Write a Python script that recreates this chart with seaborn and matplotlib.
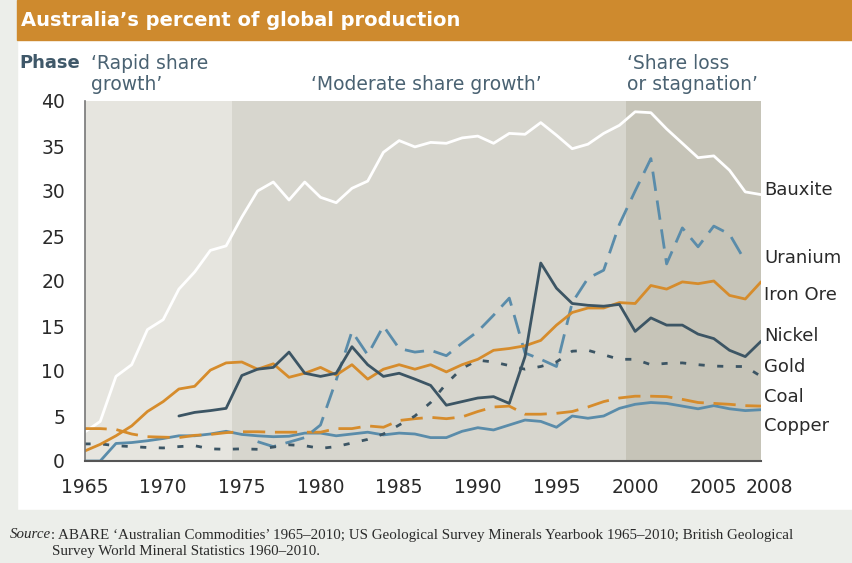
import matplotlib
matplotlib.use('Agg')
import matplotlib.pyplot as plt
import matplotlib.transforms as mtransforms
from matplotlib.patches import Rectangle
import seaborn as sns

# data (percent of global production)
years = list(range(1965, 2009))
bauxite = [3.2, 4.4, 9.4, 10.7, 14.6, 15.7, 19.1, 21.0, 23.4, 23.9,
           27.1, 30.0, 31.0, 29.0, 31.0, 29.3, 28.7, 30.3, 31.1, 34.3,
           35.6, 34.9, 35.4, 35.3, 35.9, 36.1, 35.3, 36.4, 36.3, 37.6,
           36.2, 34.7, 35.2, 36.4, 37.3, 38.8, 38.7, 36.9, 35.3, 33.7,
           33.9, 32.3, 29.9, 29.6]
iron_ore = [1.1, 1.85, 2.8, 3.9, 5.5, 6.6, 8.0, 8.3, 10.1, 10.9,
            11.0, 10.2, 10.8, 9.3, 9.75, 10.4, 9.55, 10.7, 9.1, 10.2,
            10.7, 10.2, 10.7, 9.9, 10.7, 11.3, 12.3, 12.5, 12.8, 13.4,
            15.1, 16.5, 17.0, 17.0, 17.6, 17.5, 19.5, 19.1, 19.9, 19.7,
            20.0, 18.4, 18.0, 19.9]
nickel_years = list(range(1971, 2009))
nickel = [5.0, 5.4, 5.6, 5.85,
          9.5, 10.2, 10.4, 12.1, 9.75, 9.4, 9.75, 12.7, 10.7, 9.4,
          9.75, 9.1, 8.4, 6.2, 6.6, 7.0, 7.15, 6.4, 11.6, 22.0,
          19.2, 17.5, 17.3, 17.2, 17.4, 14.4, 15.9, 15.1, 15.1, 14.1,
          13.6, 12.3, 11.6, 13.3]
uranium_years = list(range(1976, 2008))
uranium = [2.15, 1.6, 2.1, 2.6, 4.0, 9.0, 14.4, 11.8, 15.0, 12.5,
           12.1, 12.3, 11.7, 13.1, 14.4, 16.2, 18.1, 12.0, 11.3, 10.5,
           17.6, 20.3, 21.2, 26.3, 30.0, 33.6, 21.9, 25.9, 23.8, 26.1,
           25.2, 22.2]
gold = [1.9, 1.9, 1.7, 1.6, 1.5, 1.45, 1.6, 1.7, 1.35, 1.3,
        1.35, 1.3, 1.55, 1.8, 1.7, 1.4, 1.6, 2.0, 2.4, 3.0,
        4.0, 5.0, 6.5, 8.6, 10.3, 11.2, 11.0, 10.6, 10.2, 10.5,
        11.0, 12.2, 12.3, 11.8, 11.3, 11.3, 10.7, 10.85, 10.9, 10.7,
        10.55, 10.5, 10.5, 9.4]
coal = [3.6, 3.6, 3.5, 3.0, 2.7, 2.65, 2.6, 2.85, 2.95, 3.15,
        3.25, 3.25, 3.2, 3.2, 3.2, 3.2, 3.6, 3.6, 3.9, 3.75,
        4.5, 4.7, 4.85, 4.7, 4.9, 5.5, 6.0, 6.1, 5.2, 5.2,
        5.3, 5.5, 6.0, 6.6, 7.0, 7.2, 7.2, 7.15, 6.85, 6.5,
        6.4, 6.3, 6.15, 6.1]
copper = [0, 0, 1.95, 2.05, 2.25, 2.5, 2.8, 2.8, 3.0, 3.3,
          2.95, 2.8, 2.7, 2.75, 3.1, 3.1, 2.8, 3.0, 3.2, 2.9,
          3.1, 3.0, 2.6, 2.6, 3.3, 3.7, 3.45, 4.0, 4.55, 4.4,
          3.75, 5.0, 4.75, 5.0, 5.85, 6.3, 6.5, 6.4, 6.1, 5.8,
          6.15, 5.8, 5.6, 5.7]

# end-of-line labels and where they sit (value axis)
labels = ['Bauxite', 'Uranium', 'Iron Ore', 'Nickel', 'Gold', 'Coal', 'Copper']
label_y = [30.1, 22.6, 18.5, 13.9, 10.5, 7.1, 3.9]

phase_edges = [1965, 1974.4, 1999.4, 2008]
phase_colors = ['#E6E5DF', '#D7D6CE', '#C6C4B8']

ORANGE = '#D68C2C'
STEEL = '#5A8CAA'
SLATE = '#3C5564'
TEXT = '#2A2A2A'
PHASE_TEXT = '#4A6272'

sns.set_style('white')
plt.rcParams['font.family'] = 'DejaVu Sans'

fig = plt.figure(figsize=(8.52, 5.63), dpi=100)
W, H = 852, 563

# page furniture: grey strip left, grey footer, orange title bar
fig.patches.append(Rectangle((0, 0), 17 / W, 1, transform=fig.transFigure,
                             color='#ECEEEA', zorder=0))
fig.patches.append(Rectangle((0, 0), 1, 1 - 510 / H, transform=fig.transFigure,
                             color='#ECEEEA', zorder=0))
fig.patches.append(Rectangle((17 / W, 1 - 40 / H), 1, 40 / H,
                             transform=fig.transFigure, color='#CE8A2E', zorder=0))
fig.text(21 / W, 1 - 20 / H, 'Australia\u2019s percent of global production',
         color='white', fontsize=14, fontweight='bold', va='center', ha='left')

ax = fig.add_axes([84.5 / W, 1 - 461 / H, 676.5 / W, 360 / H])

for i in range(3):
    ax.axvspan(phase_edges[i], phase_edges[i + 1], color=phase_colors[i],
               lw=0, zorder=0)

lw = 2.0
sns.lineplot(x=years, y=bauxite, color='white', lw=lw, ax=ax)
sns.lineplot(x=years, y=copper, color=STEEL, lw=lw, ax=ax)
sns.lineplot(x=years, y=coal, color=ORANGE, lw=lw, ax=ax,
             linestyle=(0, (8, 3.5)))
sns.lineplot(x=uranium_years, y=uranium, color=STEEL, lw=lw, ax=ax,
             linestyle=(0, (7, 3.5)))
sns.lineplot(x=years, y=gold, color=SLATE, lw=lw, ax=ax,
             linestyle=(0, (2.2, 4.5)))
sns.lineplot(x=years, y=iron_ore, color=ORANGE, lw=lw, ax=ax)
sns.lineplot(x=nickel_years, y=nickel, color=SLATE, lw=lw, ax=ax)

ax.set_xlim(1965, 2008)
ax.set_ylim(0, 40)
ax.set_xticks(list(range(1965, 2010, 5)) + [2008])
ax.set_yticks(range(0, 41, 5))
ax.tick_params(direction='in', length=5, width=1, colors='#666666',
               labelcolor=TEXT, labelsize=13.5)
ax.tick_params(axis='x', pad=12)
ax.tick_params(axis='y', pad=14)
ax.set_xlabel('')
ax.set_ylabel('')
for s in ['top', 'right']:
    ax.spines[s].set_visible(False)
ax.spines['left'].set_color('#777777')
ax.spines['bottom'].set_color('#555555')
ax.spines['left'].set_linewidth(1.2)
ax.spines['bottom'].set_linewidth(1.5)

# nudge the 2008 label right so it does not sit on 2005
lab = ax.get_xticklabels()[-1]
lab.set_transform(lab.get_transform() +
                  mtransforms.ScaledTranslation(8 / 100, 0, fig.dpi_scale_trans))

for name, yv in zip(labels, label_y):
    ax.text(2008.2, yv, name, color=TEXT, fontsize=13, va='center',
            ha='left', clip_on=False)

# phase headings
fig.text(19 / W, 1 - 63 / H, 'Phase', color='#3F5869', fontsize=13,
         fontweight='bold', va='center')
fig.text(91 / W, 1 - 74 / H, '\u2018Rapid share\ngrowth\u2019', color=PHASE_TEXT,
         fontsize=13.5, va='center', linespacing=1.1)
fig.text(311 / W, 1 - 85 / H, '\u2018Moderate share growth\u2019',
         color=PHASE_TEXT, fontsize=13.5, va='center')
fig.text(627 / W, 1 - 74 / H, '\u2018Share loss\nor stagnation\u2019',
         color=PHASE_TEXT, fontsize=13.5, va='center', linespacing=1.1)

# source note, italic lead-in then plain text
src = fig.text(10 / W, 1 - 535 / H, 'Source', fontstyle='italic',
               family='Liberation Serif', fontsize=10.8, va='center', color=TEXT)
fig.canvas.draw()
bb = src.get_window_extent()
fig.text(bb.x1 / W, 1 - 535 / H,
         ': ABARE \u2018Australian Commodities\u2019 1965\u20132010; US Geological '
         'Survey Minerals Yearbook 1965\u20132010; British Geological',
         family='Liberation Serif', fontsize=10.8, va='center', color=TEXT)
fig.text(52 / W, 1 - 552 / H,
         'Survey World Mineral Statistics 1960\u20132010.',
         family='Liberation Serif', fontsize=10.8, va='center', color=TEXT)

fig.savefig('out.png', dpi=100)
